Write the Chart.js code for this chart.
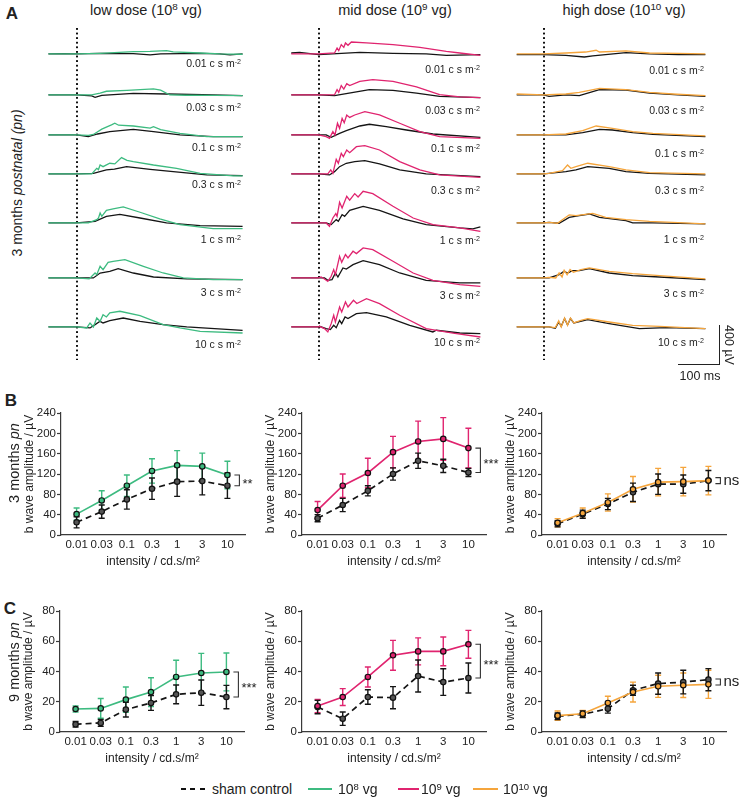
<!DOCTYPE html>
<html>
<head>
<meta charset="utf-8">
<script src="https://cdn.jsdelivr.net/npm/chart.js@4.4.0/dist/chart.umd.min.js"></script>
<style>
  body { margin: 0; width: 740px; height: 799px; position: relative; overflow: hidden; background: #fff;
         font-family: "Liberation Sans", Arial, sans-serif; color: #222; }
  canvas { position: absolute; }
  .t { position: absolute; white-space: nowrap; line-height: 1; }
  sup { font-size: 0.68em; vertical-align: 0.45em; line-height: 0; }
  .ln { position: absolute; }
</style>
</head>
<body>
<script>
// ---------- data ----------
const intensities = ['0.01', '0.03', '0.1', '0.3', '1', '3', '10'];

// ERG traces, [ms after flash, µV], one entry per flash intensity (top to bottom)
const lowTreated = [
  [[-67,0],[0,0],[56,7],[135,24],[175,27],[214,34],[230,21],[294,10],[341,0],[395,-3]],
  [[-67,0],[0,0],[36,0],[56,20],[71,38],[120,48],[183,62],[200,50],[222,0],[260,-3],[330,-5],[395,-7]],
  [[-67,0],[0,0],[28,-5],[40,5],[60,60],[83,103],[91,120],[100,100],[135,92],[175,70],[183,85],[200,55],[246,17],[310,-17],[395,-17]],
  [[-67,0],[0,0],[36,0],[48,58],[52,45],[56,92],[63,75],[79,110],[91,103],[107,168],[120,140],[135,127],[183,92],[238,58],[294,7],[373,-20],[395,-20]],
  [[-67,0],[0,0],[28,0],[48,34],[52,50],[56,103],[60,68],[71,130],[87,144],[111,164],[151,110],[198,41],[246,-17],[325,-58],[395,-58]],
  [[-67,0],[0,0],[30,-10],[44,51],[48,34],[56,120],[63,86],[75,160],[87,171],[115,188],[159,120],[206,51],[254,0],[325,-17],[395,-17]],
  [[-67,0],[0,0],[24,-10],[32,41],[40,0],[48,92],[56,58],[63,126],[71,103],[79,144],[103,161],[151,116],[206,24],[246,-10],[294,-45],[395,-62]]
];
const lowSham = [
  [[-67,0],[-30,3],[0,0],[56,7],[135,3],[175,-10],[200,2],[294,7],[340,0],[365,-10],[395,0]],
  [[-67,0],[0,0],[36,-10],[44,-24],[60,-5],[135,17],[214,10],[300,3],[395,-7]],
  [[-67,0],[0,0],[28,-17],[50,10],[79,34],[135,58],[183,34],[246,0],[325,-17],[395,-17]],
  [[-67,0],[0,0],[40,7],[71,41],[90,50],[119,75],[175,48],[230,24],[310,-10],[395,-17]],
  [[-67,0],[0,0],[44,17],[71,68],[103,89],[151,51],[214,0],[294,-27],[395,-34]],
  [[-67,0],[0,0],[40,0],[56,51],[79,68],[99,96],[135,51],[183,10],[262,-10],[395,-17]],
  [[-67,0],[0,0],[32,-10],[44,24],[56,58],[63,41],[79,65],[111,92],[151,58],[206,24],[262,0],[395,-34]]
];
const midTreated = [
  [[-65,0],[0,0],[38,10],[44,61],[48,34],[54,96],[60,68],[64,113],[70,89],[78,123],[114,113],[177,96],[241,68],[304,27],[336,10],[385,-14]],
  [[-65,0],[0,0],[38,3],[44,55],[48,27],[54,96],[60,61],[67,116],[74,96],[98,140],[129,157],[177,140],[233,82],[288,3],[336,-20],[385,-27]],
  [[-65,0],[0,0],[18,-17],[26,-34],[34,34],[39,0],[45,120],[50,68],[56,171],[61,126],[67,205],[74,180],[86,205],[110,240],[145,205],[193,120],[241,34],[288,-17],[385,-34]],
  [[-65,0],[0,0],[22,0],[29,41],[34,7],[42,150],[47,110],[54,212],[59,178],[67,246],[74,219],[90,280],[110,291],[145,246],[193,127],[241,41],[288,-10],[385,-34]],
  [[-65,0],[0,0],[18,0],[26,-34],[34,51],[41,96],[44,68],[50,212],[56,154],[67,274],[74,233],[86,301],[94,267],[106,325],[129,301],[177,171],[225,51],[272,-17],[336,-51],[385,-86]],
  [[-65,0],[0,0],[6,10],[14,-10],[22,-34],[30,17],[36,86],[40,34],[50,222],[55,160],[64,240],[70,205],[82,274],[90,250],[106,308],[129,291],[177,171],[225,51],[272,-24],[336,-68],[385,-86]],
  [[-65,0],[0,0],[2,7],[14,-17],[22,-51],[30,34],[36,120],[40,51],[50,205],[55,154],[64,257],[70,205],[83,274],[91,240],[114,291],[145,240],[193,120],[256,-17],[320,-62],[385,-103]]
];
const midSham = [
  [[-65,10],[-45,17],[0,-7],[98,17],[177,7],[256,0],[304,-14],[385,-7]],
  [[-65,0],[0,0],[38,-7],[83,27],[121,55],[177,48],[233,20],[288,-14],[385,-27]],
  [[-65,0],[0,0],[18,0],[30,-24],[50,17],[66,44],[98,92],[121,110],[161,86],[209,51],[272,10],[385,-24]],
  [[-65,0],[0,0],[26,-10],[38,24],[50,75],[66,110],[86,127],[110,137],[145,103],[193,41],[256,0],[385,-27]],
  [[-65,0],[0,0],[18,0],[30,-17],[42,34],[47,17],[56,86],[62,68],[74,130],[106,171],[145,130],[201,41],[256,-17],[336,-51],[367,-61],[385,-41]],
  [[-65,0],[0,0],[14,0],[22,-24],[32,-17],[40,51],[46,10],[58,103],[66,92],[82,137],[106,178],[145,137],[193,51],[256,-24],[336,-51],[385,-51]],
  [[-65,0],[0,0],[2,7],[18,-17],[28,-27],[36,17],[42,-7],[50,68],[55,34],[63,103],[70,86],[90,137],[114,147],[161,103],[217,17],[272,-51],[280,-34],[336,-62],[385,-68]]
];
const highTreated = [
  [[-64,0],[0,0],[53,10],[100,20],[125,38],[133,20],[196,31],[252,10],[320,7],[385,0]],
  [[-64,10],[0,0],[53,10],[85,27],[133,68],[196,55],[252,27],[307,10],[385,-7]],
  [[-64,0],[0,0],[53,10],[93,44],[125,92],[164,68],[212,34],[260,17],[385,-10]],
  [[-64,0],[0,0],[13,7],[45,34],[57,92],[65,58],[77,75],[105,110],[156,75],[196,41],[252,14],[385,0]],
  [[-64,0],[0,0],[13,7],[33,-3],[53,58],[61,82],[77,75],[117,99],[148,58],[196,34],[252,17],[307,7],[385,-10]],
  [[-64,0],[0,0],[13,7],[29,0],[37,51],[44,10],[49,79],[56,34],[63,86],[71,58],[89,86],[109,103],[156,68],[212,44],[276,24],[385,-10]],
  [[-64,0],[0,0],[13,0],[28,-7],[36,62],[42,0],[50,92],[57,17],[64,92],[72,41],[89,68],[105,86],[156,51],[212,17],[276,7],[385,-17]]
];
const highSham = [
  [[-64,-7],[0,-7],[53,-14],[97,-31],[117,-20],[196,14],[252,0],[320,-7],[385,-7]],
  [[-64,0],[0,0],[13,-14],[53,0],[85,-7],[133,55],[196,51],[252,20],[320,0],[385,-14]],
  [[-64,0],[0,0],[53,0],[93,24],[133,58],[164,51],[212,24],[260,7],[385,-17]],
  [[-64,0],[0,0],[53,24],[77,41],[105,75],[156,58],[196,24],[252,7],[385,-10]],
  [[-64,0],[0,0],[13,7],[37,-3],[61,58],[85,75],[109,92],[133,58],[196,24],[212,0],[260,0],[385,-10]],
  [[-64,0],[0,0],[13,0],[37,34],[49,68],[57,51],[69,75],[85,75],[109,96],[156,51],[212,24],[276,10],[385,-17]],
  [[-64,0],[0,0],[13,0],[28,-14],[36,51],[42,7],[50,86],[57,20],[64,86],[72,41],[105,75],[156,34],[228,-17],[292,-7],[385,-17]]
];

// b-wave amplitudes (µV), mean and error
const b3Sham = { low: [25,46,70,91,105,106,97], mid: [33,59,87,120,146,136,123], high: [22,41,61,84,100,100,107] };
const b3ShamErr = { low: [11,13,19,21,29,27,25], mid: [7,13,10,12,15,13,8], high: [6,8,11,18,20,18,20] };
const b3Dose = { low: [41,68,97,126,137,135,118], mid: [49,97,122,163,184,189,171], high: [24,43,64,90,104,105,107] };
const b3DoseErr = { low: [12,19,21,24,29,26,27], mid: [17,23,29,31,40,42,39], high: [8,10,17,25,27,28,28] };
const b9Sham = { low: [5.1,6,14.8,19.2,24.9,26,23.1], mid: [16.5,8.8,23.1,22.7,37,33,35.7], high: [10.4,11.7,15.4,27.6,32,33,34.6] };
const b9ShamErr = { low: [1.8,2.3,4.9,4.9,6.2,8.4,7.7], mid: [4.4,4.4,4.8,7.3,10.6,8.8,9.9], high: [2.2,2.2,2.9,3.3,7,7.8,7.3] };
const b9Dose = { low: [15.2,15.6,21.4,26.4,36.4,39,39.7], mid: [17.2,23.1,36.4,50.7,53.3,53.3,58], high: [10.8,12.1,19.2,26.4,30.2,30.9,31.5] };
const b9DoseErr = { low: [2,6.5,8.4,9.5,11,13,12.5], mid: [4.4,5.6,6.6,9.9,8.9,9.5,9.2], high: [3.1,2.2,4.4,6.6,7.3,8.1,9.3] };
const sig3 = { low: '**', mid: '***', high: 'ns' };
const sig9 = { low: '***', mid: '***', high: 'ns' };

// ---------- style ----------
const GREEN = '#3dbb80', PINK = '#e0246f', ORANGE = '#f5a53c', BLACK = '#151515', AX = '#3a3a3a';
Chart.defaults.font.family = '"Liberation Sans", Arial, sans-serif';
Chart.defaults.color = '#222';

function text(html, x, y, size, opts = {}) {
  const d = document.createElement('div');
  d.className = 't';
  d.innerHTML = html;
  d.style.left = x + 'px';
  d.style.top = y + 'px';
  d.style.fontSize = size + 'px';
  if (opts.bold) d.style.fontWeight = 'bold';
  const tx = opts.anchor === 'right' ? '-100%' : opts.anchor === 'left' ? '0' : '-50%';
  d.style.transform = `translate(${tx},-50%)` + (opts.rot ? ` rotate(${opts.rot}deg)` : '');
  if (opts.vertical) { d.style.writingMode = 'vertical-rl'; d.style.transform = 'translate(-50%,-50%)'; }
  document.body.appendChild(d);
  return d;
}
function box(x, y, w, h, bg) {
  const d = document.createElement('div');
  d.className = 'ln';
  Object.assign(d.style, { left: x + 'px', top: y + 'px', width: w + 'px', height: h + 'px', background: bg });
  document.body.appendChild(d);
}
function canvasAt(x, y, w, h) {
  const c = document.createElement('canvas');
  c.width = w; c.height = h;
  c.style.left = x + 'px'; c.style.top = y + 'px';
  document.body.appendChild(c);
  return c;
}

// ---------- panel A: ERG traces ----------
const MS_MIN = -68, MS_MAX = 396, UV_MIN = -308, UV_MAX = 410;
const TRACE_W = 195, TRACE_H = 70;
const rowBase = [54, 95, 135, 174, 223, 278, 327];
const columns = [
  { title: 'low dose (10<sup>8</sup> vg)', cx: 146, flash: 77, treated: lowTreated, sham: lowSham, color: GREEN,
    labelRight: 241, labelY: [63, 107, 147, 184, 239, 292, 344] },
  { title: 'mid dose (10<sup>9</sup> vg)', cx: 395, flash: 319, treated: midTreated, sham: midSham, color: PINK,
    labelRight: 480, labelY: [69, 110, 148, 190, 240, 295, 342] },
  { title: 'high dose (10<sup>10</sup> vg)', cx: 624, flash: 544, treated: highTreated, sham: highSham, color: ORANGE,
    labelRight: 704, labelY: [70, 110, 153, 190, 239, 293, 342] }
];
const toXY = arr => arr.map(p => ({ x: p[0], y: p[1] }));

columns.forEach(col => {
  text(col.title, col.cx, 10, 14.5);
  // flash marker
  box(col.flash - 1, 28, 2, 332, 'radial-gradient(circle at 1px 1.2px, #111 0.95px, transparent 1.15px) 0 0 / 2px 4.6px repeat-y');
  const left = col.flash - (0 - MS_MIN) / (MS_MAX - MS_MIN) * TRACE_W;
  const zeroFromTop = UV_MAX / (UV_MAX - UV_MIN) * TRACE_H;
  intensities.forEach((lab, i) => {
    const cv = canvasAt(left, rowBase[i] - zeroFromTop, TRACE_W, TRACE_H);
    new Chart(cv, {
      type: 'line',
      data: {
        datasets: [
          { data: toXY(col.treated[i]), borderColor: col.color, borderWidth: 1.3, pointRadius: 0, tension: 0, order: 0 },
          { data: toXY(col.sham[i]), borderColor: BLACK, borderWidth: 1.3, pointRadius: 0, tension: 0, order: 1 }
        ]
      },
      options: {
        responsive: false, animation: false, events: [],
        layout: { padding: 0 },
        plugins: { legend: { display: false }, tooltip: { enabled: false } },
        scales: {
          x: { type: 'linear', display: false, min: MS_MIN, max: MS_MAX },
          y: { display: false, min: UV_MIN, max: UV_MAX }
        }
      }
    });
    text(lab + ' c s m<sup>-2</sup>', col.labelRight, col.labelY[i], 10.5, { anchor: 'right' });
  });
});

text('A', 12, 13, 17, { bold: true });
text('3 months <i>postnatal (pn)</i>', 17, 183, 14, { rot: -90 });

// scale bar
box(719, 325, 1.3, 40, '#222');
box(678, 364, 42, 1.3, '#222');
text('400 µV', 729, 345, 12.5, { vertical: true });
text('100 ms', 700, 376, 12.5);

// ---------- panels B and C: b-wave amplitudes ----------
const errPlugin = {
  id: 'errbars',
  beforeDatasetsDraw(chart) {
    const { ctx } = chart;
    const ys = chart.scales.y;
    chart.data.datasets.forEach((ds, i) => {
      const meta = chart.getDatasetMeta(i);
      ctx.save();
      ctx.strokeStyle = ds.errColor;
      ctx.lineWidth = 1.4;
      meta.data.forEach((pt, j) => {
        const v = ds.data[j].y, e = ds.errors[j];
        const y1 = ys.getPixelForValue(v + e), y2 = ys.getPixelForValue(v - e);
        ctx.beginPath();
        ctx.moveTo(pt.x, y1); ctx.lineTo(pt.x, y2);
        ctx.moveTo(pt.x - 3, y1); ctx.lineTo(pt.x + 3, y1);
        ctx.moveTo(pt.x - 3, y2); ctx.lineTo(pt.x + 3, y2);
        ctx.stroke();
      });
      ctx.restore();
    });
  },
  afterDatasetsDraw(chart, args, o) {
    if (!o || !o.text) return;
    const { ctx } = chart;
    const pts = chart.data.datasets.map((d, i) => chart.getDatasetMeta(i).data[d.data.length - 1]);
    const x = Math.max(...pts.map(p => p.x)) + 12;
    let y1 = Math.min(...pts.map(p => p.y)), y2 = Math.max(...pts.map(p => p.y));
    if (y2 - y1 < 6) { const c = (y1 + y2) / 2; y1 = c - 3; y2 = c + 3; }
    ctx.save();
    ctx.strokeStyle = '#333';
    ctx.lineWidth = 1.1;
    ctx.beginPath();
    ctx.moveTo(x - 5, y1); ctx.lineTo(x, y1); ctx.lineTo(x, y2); ctx.lineTo(x - 5, y2);
    ctx.stroke();
    const ns = o.text === 'ns';
    ctx.fillStyle = '#222';
    ctx.font = (ns ? '15px' : '13px') + ' "Liberation Sans", Arial, sans-serif';
    ctx.textBaseline = 'middle';
    ctx.fillText(o.text, x + 3, (y1 + y2) / 2 + (ns ? 0 : 4));
    ctx.restore();
  }
};

const PLOT_W = 184, YAX_W = 42, XAX_H = 36, PAD_T = 8, PAD_R = 34;

function ampChart(L, T, plotH, yMax, yStep, sham, shamErr, dose, doseErr, color, sig) {
  const cv = canvasAt(L - YAX_W, T - PAD_T, YAX_W + PLOT_W + PAD_R, PAD_T + plotH + XAX_H);
  new Chart(cv, {
    type: 'line',
    data: {
      datasets: [
        { data: dose.map((v, i) => ({ x: i, y: v })), errors: doseErr, errColor: color,
          borderColor: color, borderWidth: 1.6, pointRadius: 2.7, pointBorderWidth: 1.2,
          pointBorderColor: '#111', pointBackgroundColor: color, tension: 0, order: 0 },
        { data: sham.map((v, i) => ({ x: i, y: v })), errors: shamErr, errColor: BLACK,
          borderColor: BLACK, borderWidth: 1.7, borderDash: [6, 4], pointRadius: 2.7, pointBorderWidth: 1.2,
          pointBorderColor: '#111', pointBackgroundColor: '#555', tension: 0, order: 1 }
      ]
    },
    options: {
      responsive: false, animation: false, events: [],
      layout: { padding: { top: PAD_T, right: PAD_R, left: 0, bottom: 0 } },
      plugins: { legend: { display: false }, tooltip: { enabled: false }, errbars: { text: sig } },
      scales: {
        x: {
          type: 'linear', min: -0.62, max: 6.7,
          grid: { display: false, drawTicks: false },
          border: { display: true, color: AX, width: 1.2 },
          ticks: { stepSize: 1, includeBounds: false, autoSkip: false, maxRotation: 0, padding: 3,
                   font: { size: 11.5 }, callback: v => intensities[v] ?? '' },
          title: { display: true, text: 'intensity / cd.s/m²', font: { size: 12 }, padding: { top: 0, bottom: 2 } },
          afterFit: s => { s.height = XAX_H; }
        },
        y: {
          min: 0, max: yMax,
          grid: { drawOnChartArea: false, drawTicks: true, tickLength: 4, color: AX, tickWidth: 1.2 },
          border: { display: true, color: AX, width: 1.2 },
          ticks: { stepSize: yStep, padding: 1, font: { size: 11.5 } },
          title: { display: true, text: 'b wave amplitude / µV', font: { size: 12 }, padding: { top: 3, bottom: 0 } },
          afterFit: s => { s.width = YAX_W; }
        }
      }
    },
    plugins: [errPlugin]
  });
}

const doses = [
  { key: 'low', color: GREEN, Lb: 61, Lc: 60 },
  { key: 'mid', color: PINK, Lb: 302, Lc: 302 },
  { key: 'high', color: ORANGE, Lb: 542, Lc: 542 }
];
doses.forEach(d => {
  ampChart(d.Lb, 413, 122, 240, 40, b3Sham[d.key], b3ShamErr[d.key], b3Dose[d.key], b3DoseErr[d.key], d.color, sig3[d.key]);
  ampChart(d.Lc, 611, 121, 80, 20, b9Sham[d.key], b9ShamErr[d.key], b9Dose[d.key], b9DoseErr[d.key], d.color, sig9[d.key]);
});

text('B', 11, 400, 17, { bold: true });
text('C', 10, 608, 17, { bold: true });
text('3 months <i>pn</i>', 14, 463, 14.5, { rot: -90 });
text('9 months <i>pn</i>', 14, 662, 14.5, { rot: -90 });

// ---------- legend ----------
const LY = 789;
box(181, LY - 1, 24, 2.2, 'repeating-linear-gradient(90deg, #111 0 5px, transparent 5px 9.5px)');
text('sham control', 212, LY, 14, { anchor: 'left' });
box(308, LY - 1.2, 24, 2.4, GREEN);
text('10<sup>8</sup> vg', 338, LY, 14, { anchor: 'left' });
box(398, LY - 1.2, 21, 2.4, PINK);
text('10<sup>9</sup> vg', 421, LY, 14, { anchor: 'left' });
box(473, LY - 1.2, 25, 2.4, ORANGE);
text('10<sup>10</sup> vg', 503, LY, 14, { anchor: 'left' });
</script>
</body>
</html>
